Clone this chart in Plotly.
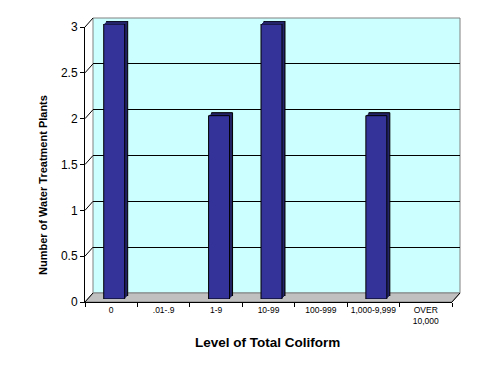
import plotly.graph_objects as go

# ---- data ----
categories = ["0", ".01-.9", "1-9", "10-99", "100-999", "1,000-9,999", "OVER<br>10,000"]
plants = [3, 0, 2, 3, 0, 2, 0]
y_ticks = [0, 0.5, 1, 1.5, 2, 2.5, 3]

W, H = 491, 374
FONT = "Arial, Liberation Sans, sans-serif"

# front plane geometry (pixels)
FX0, FX1 = 85, 452
FY0, FY3 = 302, 27  # pixel y of value 0 and value 3


def dom(dx, dy):
    return ([(FX0 + dx) / W, (FX1 + dx) / W],
            [(H - FY0 + dy) / H, (H - FY3 + dy) / H])


def px(x):
    return x / W


def py(y):
    return (H - y) / H


fig = go.Figure()

# subplot planes: (dx, dy) offset from front plane
planes = {
    1: (8, 9),   # back wall
    2: (6, 6),   # bar extrusion (back)
    3: (5, 5),
    4: (4, 4),
    5: (3, 3),   # bar front face
    6: (0, 0),   # front axes
}

layout = dict(
    width=W, height=H, autosize=False,
    margin=dict(l=0, r=0, t=0, b=0),
    paper_bgcolor="white", plot_bgcolor="rgba(0,0,0,0)",
    showlegend=False, template="none",
    font=dict(family=FONT, color="black"),
)

for i, (dx, dy) in planes.items():
    xd, yd = dom(dx, dy)
    s = "" if i == 1 else str(i)
    layout["xaxis" + s] = dict(
        domain=xd, anchor="y" + s, type="category",
        categoryorder="array", categoryarray=categories,
        range=[-0.5, len(categories) - 0.5],
        showgrid=False, zeroline=False, showline=False,
        showticklabels=False, ticks="", automargin=False, fixedrange=True,
    )
    layout["yaxis" + s] = dict(
        domain=yd, anchor="x" + s, range=[0, 3],
        showgrid=False, zeroline=False, showline=False,
        showticklabels=False, ticks="", automargin=False, fixedrange=True,
    )

# back wall gridlines
layout["yaxis"].update(showgrid=True, gridcolor="black", gridwidth=1,
                       tickvals=y_ticks[1:-1])

# front axes
layout["xaxis6"].update(
    showline=True, linecolor="black", linewidth=1,
    ticks="outside", tickson="boundaries", ticklen=4, tickcolor="black",
    showticklabels=True, tickangle=0,
    tickfont=dict(family=FONT, size=8.5, color="black"),
)
layout["yaxis6"].update(
    showline=True, linecolor="black", linewidth=1,
    ticks="outside", ticklen=4, tickcolor="black", tickvals=y_ticks,
    showticklabels=True, tickfont=dict(family=FONT, size=12, color="black"),
)

fig.update_layout(**layout)

# invisible trace to create back wall subplot
fig.add_trace(go.Scatter(x=categories, y=plants, mode="markers",
                         marker=dict(opacity=0), hoverinfo="skip",
                         xaxis="x", yaxis="y"))


def widths(lw):
    return [lw if v > 0 else 0 for v in plants]


# bar extrusion layers
for i, color, lw in [(2, "#1e1e55", 1), (3, "#24246a", 0), (4, "#24246a", 0)]:
    fig.add_trace(go.Bar(x=categories, y=plants, width=0.4,
                         marker=dict(color=color, line=dict(color="black", width=widths(lw))),
                         xaxis="x" + str(i), yaxis="y" + str(i), hoverinfo="skip"))
# bar front face
fig.add_trace(go.Bar(x=categories, y=plants, width=0.4,
                     marker=dict(color="#333399", line=dict(color="black", width=widths(1))),
                     xaxis="x5", yaxis="y5"))
# invisible trace for front axes
fig.add_trace(go.Scatter(x=categories, y=plants, mode="markers",
                         marker=dict(opacity=0), hoverinfo="skip",
                         xaxis="x6", yaxis="y6"))

# ---- decorative walls ----
bdx, bdy = planes[1]
shapes = []
# back wall
shapes.append(dict(type="rect", xref="x domain", yref="y domain",
                   x0=0, x1=1, y0=0, y1=1, fillcolor="#CCFFFF",
                   line=dict(color="#808080", width=1), layer="below"))
# floor
floor_path = "M {a},{b} L {c},{b} L {d},{e} L {f},{e} Z".format(
    a=px(FX0), b=py(FY0), c=px(FX1), d=px(FX1 + bdx), e=py(FY0 - bdy), f=px(FX0 + bdx))
shapes.append(dict(type="path", xref="paper", yref="paper", path=floor_path,
                   fillcolor="#C0C0C0", line=dict(color="#808080", width=1), layer="below"))
# right floor edge
shapes.append(dict(type="line", xref="paper", yref="paper",
                   x0=px(FX1), y0=py(FY0), x1=px(FX1 + bdx), y1=py(FY0 - bdy),
                   line=dict(color="black", width=1), layer="below"))
# side wall diagonals at y ticks
for v in y_ticks:
    yy = FY0 + (FY3 - FY0) * v / 3
    shapes.append(dict(type="line", xref="paper", yref="paper",
                       x0=px(FX0), y0=py(yy), x1=px(FX0 + bdx), y1=py(yy - bdy),
                       line=dict(color="black", width=1), layer="below"))

fig.update_layout(shapes=shapes)

# axis titles
fig.add_annotation(text="<b>Number of Water Treatment Plants</b>", xref="paper", yref="paper",
                   x=px(43), y=py(185), textangle=-90, showarrow=False,
                   font=dict(family=FONT, size=11, color="black"),
                   xanchor="center", yanchor="middle")
fig.add_annotation(text="<b>Level of Total Coliform</b>", xref="paper", yref="paper",
                   x=px(267), y=py(342), showarrow=False,
                   font=dict(family=FONT, size=13.5, color="black"),
                   xanchor="center", yanchor="middle")

fig.write_html("out.html")
